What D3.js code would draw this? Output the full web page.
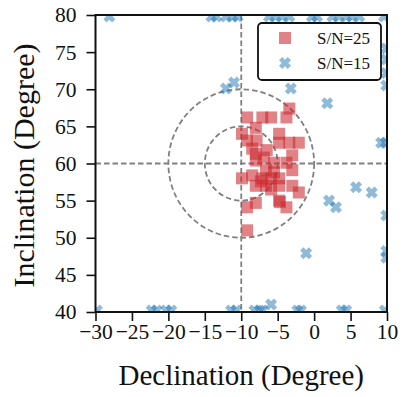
<!DOCTYPE html>
<html>
<head>
<meta charset="utf-8">
<script src="https://cdn.jsdelivr.net/npm/d3@7"></script>
<style>
  body { margin: 0; background: #fff; }
  svg text { font-family: "Liberation Serif", "DejaVu Serif", serif; }
</style>
</head>
<body>
<svg id="chart" width="403" height="397"></svg>
<script>
// S/N=25 (red squares): [declination, inclination]
const snr25 = [
  [-3.4, 67.4],
  [-9.2, 66.2], [-7.1, 66.2], [-5.9, 66.2], [-3.8, 66.2],
  [-8.0, 64.8], [-9.9, 64.0], [-4.8, 64.0],
  [-9.2, 63.1], [-7.9, 63.1], [-4.8, 62.8], [-3.4, 62.8], [-2.1, 62.8],
  [-8.5, 62.0], [-6.5, 61.8],
  [-8.0, 61.3], [-3.0, 61.1],
  [-8.0, 60.4], [-5.5, 60.1], [-3.8, 60.1], [-6.9, 60.8],
  [-3.0, 59.1], [-6.6, 59.1], [-5.5, 58.8],
  [-9.9, 58.0], [-7.1, 58.0], [-5.9, 58.0], [-4.8, 58.0], [-8.5, 58.4],
  [-8.0, 57.0], [-6.6, 57.0], [-4.8, 57.0], [-3.0, 57.0], [-7.3, 57.6],
  [-2.1, 56.1], [-5.9, 56.5],
  [-4.8, 55.0], [-9.2, 54.1], [-3.8, 54.1], [-8.0, 54.7], [-4.7, 54.8],
  [-9.2, 51.0]
];

// S/N=15 (blue crosses)
const snr15 = [
  // top edge
  [-28.1, 79.8], [-14.1, 79.8], [-13.4, 79.8], [-12.1, 79.8], [-11.2, 79.8], [-10.5, 79.8],
  [-6.2, 79.8], [-5.3, 79.8], [-4.4, 79.8], [-3.4, 79.8], [-0.3, 79.8], [0.4, 79.8],
  [2.5, 79.8], [3.4, 79.8], [4.4, 79.8], [5.2, 79.8], [6.2, 79.8], [9.6, 79.8],
  // right edge
  [9.9, 75.5], [9.9, 74.0], [9.9, 72.2], [9.9, 70.5],
  [9.2, 62.8], [9.8, 62.8], [9.9, 53.0], [9.9, 48.2], [9.9, 47.3],
  // bottom edge
  [-29.8, 40.2], [-22.3, 40.2], [-21.6, 40.2], [-20.3, 40.2], [-19.6, 40.2],
  [-11.4, 40.2], [-10.7, 40.2], [-8.2, 40.2], [-7.5, 40.2], [-7.1, 40.2],
  [-5.9, 41.0], [-2.3, 40.2], [-1.8, 40.2], [3.8, 40.2], [4.4, 40.2], [9.7, 40.2],
  // inside
  [-12.1, 70.1], [-11.0, 70.9], [-3.2, 70.1], [1.8, 68.1],
  [5.75, 56.8], [7.9, 56.1], [2.05, 55.0], [3.0, 54.1], [-1.1, 47.9]
];

const xTicks = [-30, -25, -20, -15, -10, -5, 0, 5, 10];
const yTicks = [40, 45, 50, 55, 60, 65, 70, 75, 80];
const center = [-10, 60];
const radii = [5, 10];

const legendItems = [
  { label: "S/N=25", kind: "square" },
  { label: "S/N=15", kind: "cross" }
];

const W = 403, H = 397;
const margin = { top: 15, right: 16, bottom: 85, left: 95.5 };
const iw = W - margin.left - margin.right;
const ih = H - margin.top - margin.bottom;

const redColor = "#cc2a2f";
const blueColor = "#1f77b4";
const gridGray = "#808080";

const svg = d3.select("#chart");
const g = svg.append("g").attr("transform", `translate(${margin.left},${margin.top})`);

const x = d3.scaleLinear().domain([-30, 10]).range([0, iw]);
const y = d3.scaleLinear().domain([40, 80]).range([ih, 0]);

svg.append("defs").append("clipPath").attr("id", "plot-clip")
  .append("rect").attr("width", iw).attr("height", ih);

const plot = g.append("g").attr("clip-path", "url(#plot-clip)");

// 기준선 (점선)
plot.append("line")
  .attr("x1", x(center[0])).attr("x2", x(center[0]))
  .attr("y1", 0).attr("y2", ih)
  .attr("stroke", gridGray).attr("stroke-width", 1.8).attr("stroke-dasharray", "5.5,3");
plot.append("line")
  .attr("x1", 0).attr("x2", iw)
  .attr("y1", y(center[1])).attr("y2", y(center[1]))
  .attr("stroke", gridGray).attr("stroke-width", 1.8).attr("stroke-dasharray", "5.5,3");

plot.selectAll("ellipse.ring")
  .data(radii)
  .join("ellipse")
  .attr("class", "ring")
  .attr("cx", x(center[0]))
  .attr("cy", y(center[1]))
  .attr("rx", r => x(center[0] + r) - x(center[0]))
  .attr("ry", r => y(center[1]) - y(center[1] + r))
  .attr("fill", "none")
  .attr("stroke", gridGray).attr("stroke-width", 1.8).attr("stroke-dasharray", "5.5,3");

// 굵은 X 마커 (plus 모양을 45도 회전)
const a = 6.2, w = 2.3;
const crossPath = d3.line()([
  [-w, -a], [w, -a], [w, -w], [a, -w], [a, w], [w, w],
  [w, a], [-w, a], [-w, w], [-a, w], [-a, -w], [-w, -w]
]) + "Z";
const sq = 12;

plot.selectAll("rect.s25")
  .data(snr25)
  .join("rect")
  .attr("class", "s25")
  .attr("x", d => x(d[0]) - sq / 2)
  .attr("y", d => y(d[1]) - sq / 2)
  .attr("width", sq).attr("height", sq)
  .attr("fill", redColor).attr("fill-opacity", 0.58);

plot.selectAll("path.s15")
  .data(snr15)
  .join("path")
  .attr("class", "s15")
  .attr("d", crossPath)
  .attr("transform", d => `translate(${x(d[0])},${y(d[1])}) rotate(45)`)
  .attr("fill", blueColor).attr("fill-opacity", 0.5);

// 축
const xAxis = g.append("g")
  .attr("transform", `translate(0,${ih})`)
  .call(d3.axisBottom(x).tickValues(xTicks).tickSize(9).tickPadding(3).tickSizeOuter(0));
const yAxis = g.append("g")
  .call(d3.axisLeft(y).tickValues(yTicks).tickSize(9).tickPadding(10).tickSizeOuter(0));

[xAxis, yAxis].forEach(ax => {
  ax.select(".domain").remove();
  ax.selectAll(".tick line").attr("stroke", "#111").attr("stroke-width", 1.6);
  ax.selectAll(".tick text").attr("fill", "#111").style("font-size", "21.5px")
    .style("font-family", "'Liberation Serif', serif");
});

// 테두리
g.append("rect")
  .attr("width", iw).attr("height", ih)
  .attr("fill", "none").attr("stroke", "#111").attr("stroke-width", 2);

// 축 제목
svg.append("text")
  .attr("x", margin.left + iw / 2)
  .attr("y", 385)
  .attr("text-anchor", "middle")
  .style("font-size", "29px")
  .attr("fill", "#111")
  .text("Declination (Degree)");

svg.append("text")
  .attr("transform", `translate(34,${margin.top + ih / 2 + 2}) rotate(-90)`)
  .attr("text-anchor", "middle")
  .style("font-size", "30px")
  .attr("fill", "#111")
  .text("Inclination (Degree)");

// 범례
const lg = g.append("g").attr("transform", `translate(${258 - margin.left},${23 - margin.top})`);
lg.append("rect")
  .attr("width", 123).attr("height", 57)
  .attr("rx", 4).attr("ry", 4)
  .attr("fill", "#fff").attr("fill-opacity", 0.9)
  .attr("stroke", "#111").attr("stroke-width", 1.8);

const rows = lg.selectAll("g.item")
  .data(legendItems)
  .join("g")
  .attr("class", "item")
  .attr("transform", (d, i) => `translate(27,${15 + i * 25})`);

rows.filter(d => d.kind === "square").append("rect")
  .attr("x", -sq / 2).attr("y", -sq / 2).attr("width", sq).attr("height", sq)
  .attr("fill", redColor).attr("fill-opacity", 0.58);
rows.filter(d => d.kind === "cross").append("path")
  .attr("d", crossPath).attr("transform", "rotate(45)")
  .attr("fill", blueColor).attr("fill-opacity", 0.5);

rows.append("text")
  .attr("x", 32).attr("y", 6)
  .style("font-size", "17px")
  .attr("fill", "#111")
  .text(d => d.label);
</script>
</body>
</html>
